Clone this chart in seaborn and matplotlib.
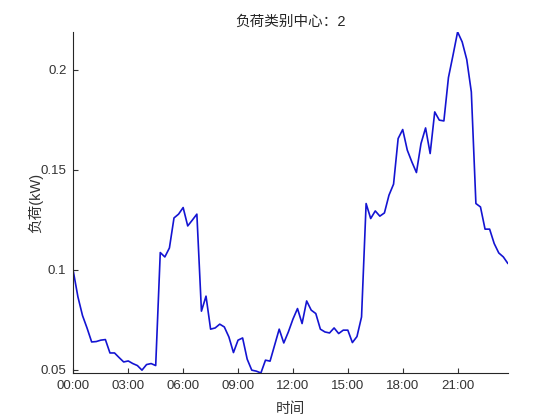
import matplotlib
matplotlib.use("Agg")
import matplotlib.pyplot as plt
import numpy as np
import pandas as pd
import seaborn as sns

# 96 points, one every 15 minutes
load_kw = [
    0.0990, 0.0863, 0.0770, 0.0707, 0.0638, 0.0640, 0.0647, 0.0650,
    0.0583, 0.0583, 0.0560, 0.0538, 0.0543, 0.0530, 0.0520, 0.0497,
    0.0525, 0.0530, 0.0520, 0.1085, 0.1063, 0.1108, 0.1258, 0.1277,
    0.1310, 0.1218, 0.1247, 0.1277, 0.0792, 0.0867, 0.0702, 0.0708,
    0.0727, 0.0713, 0.0663, 0.0585, 0.0647, 0.0658, 0.0552, 0.0497,
    0.0492, 0.0483, 0.0547, 0.0542, 0.0622, 0.0702, 0.0633, 0.0688,
    0.0752, 0.0805, 0.0730, 0.0843, 0.0797, 0.0780, 0.0702, 0.0688,
    0.0683, 0.0708, 0.0680, 0.0697, 0.0697, 0.0635, 0.0665, 0.0763,
    0.1330, 0.1255, 0.1293, 0.1267, 0.1283, 0.1372, 0.1427, 0.1655,
    0.1700, 0.1597, 0.1538, 0.1485, 0.1630, 0.1708, 0.1580, 0.1788,
    0.1747, 0.1743, 0.1960, 0.2072, 0.2188, 0.2138, 0.2050, 0.1888,
    0.1330, 0.1313, 0.1202, 0.1202, 0.1130, 0.1083, 0.1063, 0.1030,
]
tick_hours = [0, 3, 6, 9, 12, 15, 18, 21]
tick_labels = ["00:00", "03:00", "06:00", "09:00", "12:00", "15:00", "18:00", "21:00"]
y_ticks = [0.05, 0.1, 0.15, 0.2]
y_tick_labels = ["0.05", "0.1", "0.15", "0.2"]
cluster_id = 2

df = pd.DataFrame({"hour": np.arange(len(load_kw)) * 0.25, "load": load_kw})

sns.set_style("ticks", {"xtick.direction": "in", "ytick.direction": "in"})
plt.rcParams["font.family"] = ["Liberation Sans", "Noto Sans CJK SC", "DejaVu Sans"]

fig = plt.figure(figsize=(5.6, 4.2), dpi=100)
ax = fig.add_axes([0.131, 0.112, 0.776, 0.812])

sns.lineplot(data=df, x="hour", y="load", ax=ax, color="#1414d2", linewidth=1.2)

ax.set_xlim(df["hour"].min(), df["hour"].max())
ax.set_ylim(df["load"].min(), df["load"].max())
ax.set_xticks(tick_hours)
ax.set_xticklabels(tick_labels)
ax.set_yticks(y_ticks)
ax.set_yticklabels(y_tick_labels)
ax.tick_params(axis="both", labelsize=9.5, colors="#333333", length=3.5, width=0.8, pad=5)
for side in ["left", "bottom"]:
    ax.spines[side].set_color("#262626")
    ax.spines[side].set_linewidth(0.8)
sns.despine(ax=ax)

ax.set_title(f"负荷类别中心：{cluster_id}", fontsize=10.5, color="#262626", pad=4.5)
ax.set_xlabel("时间", fontsize=10.5, color="#333333", labelpad=7.5)
ax.set_ylabel("负荷(kW)", fontsize=10.5, color="#333333", labelpad=-2)

fig.savefig("out.png", dpi=100)
